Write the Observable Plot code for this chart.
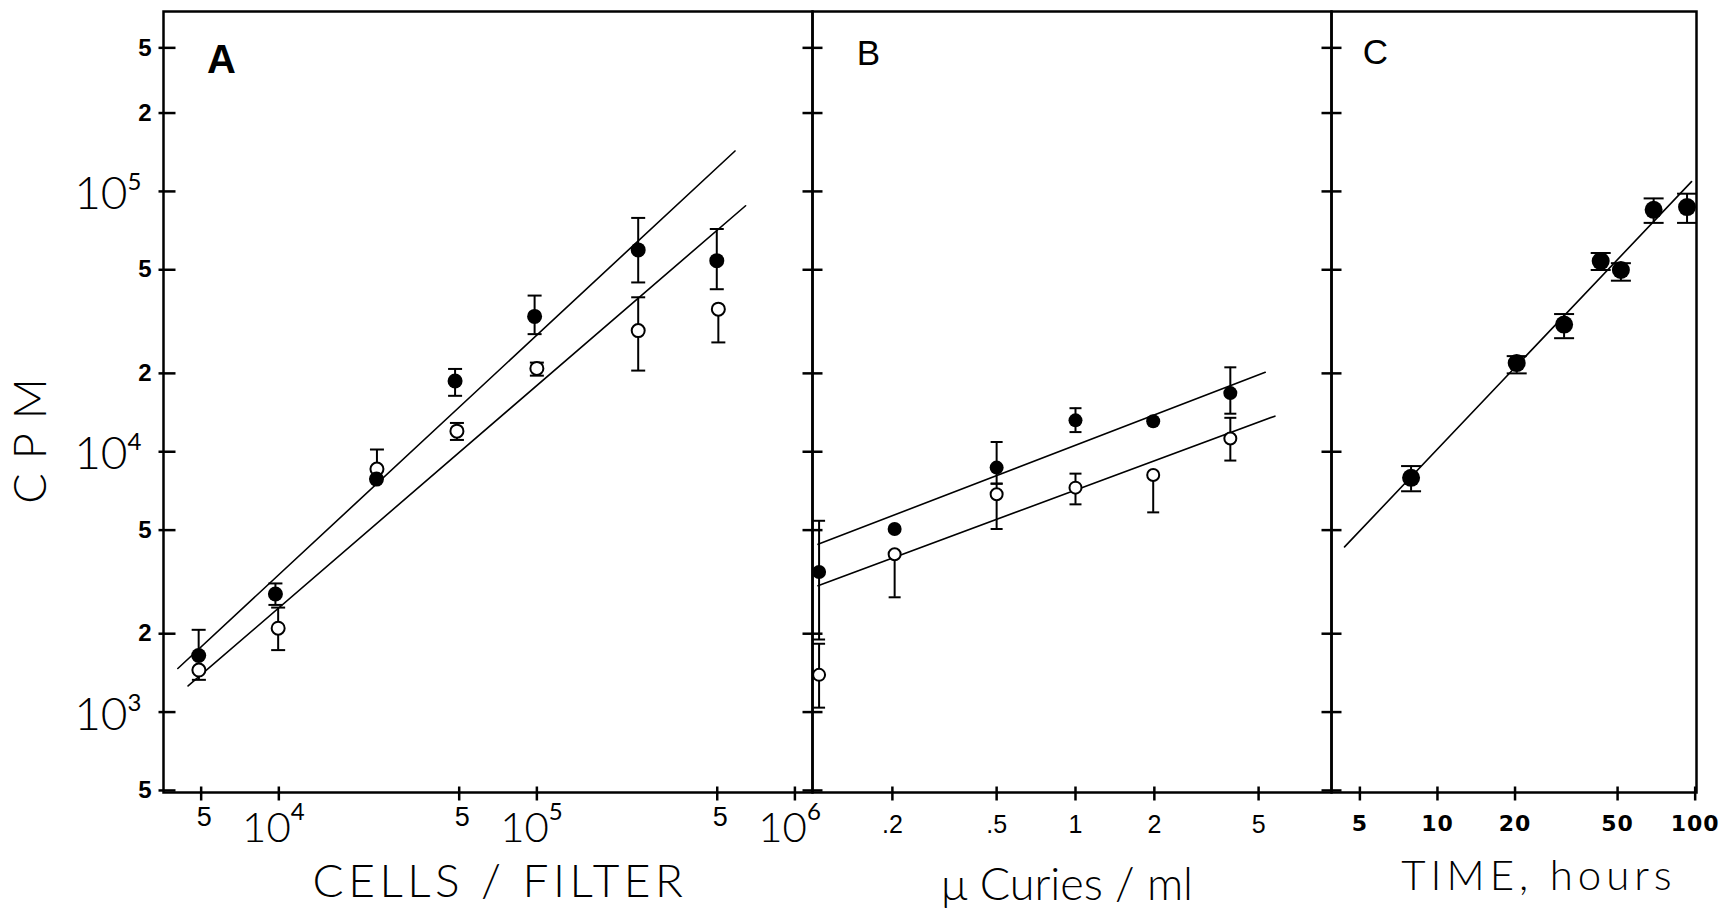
<!DOCTYPE html>
<html><head><meta charset="utf-8">
<script src="https://cdn.jsdelivr.net/npm/d3@7"></script>
<script src="https://cdn.jsdelivr.net/npm/@observablehq/plot@0.6"></script>
<style>
html,body{margin:0;padding:0;background:#fff;}
#fig{position:relative;width:1724px;height:913px;overflow:hidden;background:#fff;}
#fig svg{position:absolute;left:0;top:0;}
</style></head><body><div id="fig"></div>
<script>
// ---- shared y axis (CPM, log) ----
const yDomain = [491, 4.91e5];
const yMajorTicks = [1e3, 1e4, 1e5];
const yMajorExp = ["3", "4", "5"];
const yMinorTicks = [500, 2000, 5000, 2e4, 5e4, 2e5, 3.56e5];
const yMinorLabels = ["5", "2", "5", "2", "5", "2", "5"];
const yAllTicks = [500, 1e3, 2000, 5000, 1e4, 2e4, 5e4, 1e5, 2e5, 3.56e5];

// ---- Panel A: cells / filter ----
const xDomainA = [3573, 1.17e6];
const xTicksA = [5e3, 1e4, 5e4, 1e5, 5e5, 1e6];
const xMinorA = [5e3, 5e4, 5e5];
const xMajorA = [1e4, 1e5, 1e6];
const xMajorExpA = ["4", "5", "6"];
const cellsFilledA = [4890, 9700, 23900, 48200, 98000, 247000, 498000];
const cpmFilledA = [1650, 2840, 7850, 18700, 33100, 59600, 54200];
const hiFilledA = [2070, 3120, null, 20800, 39800, 79100, 71700];
const loFilledA = [null, 2580, null, 16400, 28300, 44700, 42100];
const cellsOpenA = [4900, 9940, 24000, 49000, 100000, 247000, 505000];
const cpmOpenA = [1450, 2100, 8580, 12000, 20900, 29200, 35300];
const hiOpenA = [null, 2520, 10200, 12900, 22000, 39200, null];
const loOpenA = [1330, 1730, null, 11100, 19600, 20500, 26300];
const fitFilledAx = [4060, 586000], fitFilledAy = [1470, 143000];
const fitOpenAx = [4450, 644000], fitOpenAy = [1260, 88100];

// ---- Panel B: uCuries / ml ----
const xDomainB = [0.0991, 9.49];
const xTicksB = [0.2, 0.5, 1, 2, 5];
const xLabelsB = [".2", ".5", "1", "2", "5"];
const doseB = [0.105, 0.204, 0.5, 1.0, 1.98, 3.9];
const cpmFilledB = [3450, 5050, 8690, 13200, 13100, 16800];
const hiFilledB = [5430, null, 10900, 14700, null, 21100];
const loFilledB = [1900, null, 7540, 11900, null, 14000];
const cpmOpenB = [1390, 4040, 6870, 7280, 8140, 11250];
const hiOpenB = [1830, null, 7540, 8240, null, 13500];
const loOpenB = [1040, 2760, 5050, 6280, 5850, 9250];
const fitFilledBx = [0.104, 5.3], fitFilledBy = [4410, 20200];
const fitOpenBx = [0.104, 5.77], fitOpenBy = [3060, 13700];

// ---- Panel C: time, hours ----
const xDomainC = [3.88, 101.2];
const xTicksC = [5, 10, 20, 50, 100];
const xLabelsC = ["5", "10", "20", "50", "100"];
const hoursC = [7.9, 20.3, 31, 43, 51.5, 69, 93];
const cpmC = [7940, 21900, 30800, 54000, 49900, 85000, 87100];
const hiC = [8810, 23300, 33800, 58000, 53000, 94000, 98000];
const loC = [7050, 20000, 27300, 49900, 45400, 75700, 75700];
const fitCx = [4.36, 96.8], fitCy = [4310, 109000];

// ---- helpers ----
const W = 1724, H = 913, TOP = 11, BOTTOM = 121;
const thin = "Lato, 'Open Sans', sans-serif";
const sans = "'Liberation Sans', Arial, sans-serif";
const wide = "'DejaVu Sans', Verdana, sans-serif";

const rows = (xs, ys, hi, lo) => xs.map((x, i) => ({x, y: ys[i], hi: hi[i], lo: lo[i]}));
const pts = (xs, ys) => xs.map((x, i) => ({x, y: ys[i]}));
const hLine = (a, b) => ({draw(c) { c.moveTo(-a, 0); c.lineTo(b, 0); }});
const vLine = (a, b) => ({draw(c) { c.moveTo(0, -a); c.lineTo(0, b); }});
const mid = {textAnchor: "middle", lineAnchor: "middle"};

function errorMarks(data, capHalf, sw = 2) {
  const bars = data.filter(d => d.hi != null || d.lo != null);
  return [
    Plot.ruleX(bars, {x: "x", y1: d => d.lo ?? d.y, y2: d => d.hi ?? d.y, stroke: "black", strokeWidth: sw}),
    Plot.dot(data.filter(d => d.hi != null), {x: "x", y: "hi", symbol: hLine(capHalf, capHalf), stroke: "black", fill: "none", strokeWidth: sw}),
    Plot.dot(data.filter(d => d.lo != null), {x: "x", y: "lo", symbol: hLine(capHalf, capHalf), stroke: "black", fill: "none", strokeWidth: sw})
  ];
}

function panel(left, right, xDomain, marks) {
  return Plot.plot({
    width: W, height: H,
    marginLeft: left, marginRight: W - right, marginTop: TOP, marginBottom: BOTTOM,
    x: {type: "log", domain: xDomain, axis: null},
    y: {type: "log", domain: yDomain, axis: null},
    style: {background: "transparent", overflow: "visible", color: "black"},
    marks
  });
}

const frame = Plot.frame({stroke: "black", strokeWidth: 2.5});

// ---- Panel A ----
const dataFA = rows(cellsFilledA, cpmFilledA, hiFilledA, loFilledA);
const dataOA = rows(cellsOpenA, cpmOpenA, hiOpenA, loOpenA);
const plotA = panel(163, 812, xDomainA, [
  Plot.line(pts(fitFilledAx, fitFilledAy), {x: "x", y: "y", stroke: "black", strokeWidth: 1.6}),
  Plot.line(pts(fitOpenAx, fitOpenAy), {x: "x", y: "y", stroke: "black", strokeWidth: 1.6}),
  ...errorMarks(dataOA, 7),
  ...errorMarks(dataFA, 7),
  Plot.dot(dataOA, {x: "x", y: "y", r: 6.5, fill: "white", stroke: "black", strokeWidth: 2}),
  Plot.dot(dataFA, {x: "x", y: "y", r: 7.5, fill: "black"}),
  frame,
  // y ticks
  Plot.dot(yAllTicks, {y: d => d, frameAnchor: "left", symbol: hLine(5, 12), stroke: "black", fill: "none", strokeWidth: 2.5}),
  Plot.text(yMinorTicks, {y: d => d, text: (d, i) => yMinorLabels[i], frameAnchor: "left", dx: -12, textAnchor: "end", lineAnchor: "middle", fontSize: 24, fontWeight: "bold", fontFamily: sans}),
  Plot.text(yMajorTicks, {y: d => d, text: () => "10", frameAnchor: "left", dx: -36, dy: 3, textAnchor: "end", lineAnchor: "middle", fontSize: 46, fontWeight: 300, fontFamily: thin}),
  Plot.text(yMajorTicks, {y: d => d, text: (d, i) => yMajorExp[i], frameAnchor: "left", dx: -36, dy: -9, textAnchor: "start", lineAnchor: "middle", fontSize: 24, fontFamily: thin}),
  // x ticks
  Plot.dot(xTicksA, {x: d => d, frameAnchor: "bottom", symbol: vLine(6, 8), stroke: "black", fill: "none", strokeWidth: 2.5}),
  Plot.text(xMinorA, {x: d => d, text: () => "5", frameAnchor: "bottom", dx: 3, dy: 25, ...mid, fontSize: 27, fontFamily: sans}),
  Plot.text(xMajorA, {x: d => d, text: () => "10", frameAnchor: "bottom", dx: 12, dy: 36, textAnchor: "end", lineAnchor: "middle", fontSize: 42, fontWeight: 300, fontFamily: thin}),
  Plot.text(xMajorA, {x: d => d, text: (d, i) => xMajorExpA[i], frameAnchor: "bottom", dx: 12, dy: 20, textAnchor: "start", lineAnchor: "middle", fontSize: 24, fontFamily: thin}),
  // titles
  Plot.text(["A"], {frameAnchor: "top-left", dx: 58, dy: 49, ...mid, fontSize: 40, fontWeight: "bold", fontFamily: sans}),
  Plot.text(["CELLS / FILTER"], {frameAnchor: "bottom", dx: 12, dy: 90, ...mid, fontSize: 46, fontWeight: 300, fontFamily: thin}),
  Plot.text(["CPM"], {frameAnchor: "left", dx: -132, dy: 32, rotate: -90, ...mid, fontSize: 45, fontWeight: 300, fontFamily: thin})
]);

// ---- Panel B ----
const dataFB = rows(doseB, cpmFilledB, hiFilledB, loFilledB);
const dataOB = rows(doseB, cpmOpenB, hiOpenB, loOpenB);
const plotB = panel(812, 1331, xDomainB, [
  Plot.line(pts(fitFilledBx, fitFilledBy), {x: "x", y: "y", stroke: "black", strokeWidth: 1.6}),
  Plot.line(pts(fitOpenBx, fitOpenBy), {x: "x", y: "y", stroke: "black", strokeWidth: 1.6}),
  ...errorMarks(dataOB, 6),
  ...errorMarks(dataFB, 6),
  Plot.dot(dataOB, {x: "x", y: "y", r: 6, fill: "white", stroke: "black", strokeWidth: 2}),
  Plot.dot(dataFB, {x: "x", y: "y", r: 7, fill: "black"}),
  frame,
  Plot.dot(yAllTicks, {y: d => d, frameAnchor: "left", symbol: hLine(10, 10), stroke: "black", fill: "none", strokeWidth: 2.5}),
  Plot.dot(xTicksB, {x: d => d, frameAnchor: "bottom", symbol: vLine(6, 8), stroke: "black", fill: "none", strokeWidth: 2.5}),
  Plot.text(xTicksB, {x: d => d, text: (d, i) => xLabelsB[i], frameAnchor: "bottom", dy: 32, ...mid, fontSize: 25, fontFamily: sans}),
  Plot.text(["B"], {frameAnchor: "top-left", dx: 56, dy: 42, ...mid, fontSize: 35, fontFamily: sans}),
  Plot.text(["\u03bc Curies / ml"], {frameAnchor: "bottom", dx: -5, dy: 93, ...mid, fontSize: 45, fontWeight: 300, fontFamily: thin})
]);

// ---- Panel C ----
const dataC = rows(hoursC, cpmC, hiC, loC);
const plotC = panel(1331, 1696, xDomainC, [
  Plot.line(pts(fitCx, fitCy), {x: "x", y: "y", stroke: "black", strokeWidth: 1.6}),
  ...errorMarks(dataC, 10),
  Plot.dot(dataC, {x: "x", y: "y", r: 9, fill: "black"}),
  frame,
  Plot.dot(yAllTicks, {y: d => d, frameAnchor: "left", symbol: hLine(10, 10), stroke: "black", fill: "none", strokeWidth: 2.5}),
  Plot.dot(xTicksC, {x: d => d, frameAnchor: "bottom", symbol: vLine(6, 8), stroke: "black", fill: "none", strokeWidth: 2.5}),
  Plot.text(xTicksC, {x: d => d, text: (d, i) => xLabelsC[i], frameAnchor: "bottom", dy: 31, ...mid, fontSize: 22, fontWeight: "bold", fontFamily: wide}),
  Plot.text(["C"], {frameAnchor: "top-left", dx: 44, dy: 41, ...mid, fontSize: 35, fontFamily: sans}),
  Plot.text(["TIME, hours"], {frameAnchor: "bottom", dx: 25, dy: 84, ...mid, fontSize: 42, fontWeight: 300, fontFamily: thin})
]);

const fig = document.getElementById("fig");
[plotA, plotB, plotC].forEach(p => fig.appendChild(p));

// letter spacing for the hand-lettered titles
const spacing = {"CPM": "14px", "CELLS / FILTER": "4.5px", "TIME, hours": "5px"};
fig.querySelectorAll("text").forEach(t => {
  const s = t.textContent;
  if (spacing[s]) t.style.letterSpacing = spacing[s];
});
plotC.querySelectorAll("text").forEach(t => {
  if (xLabelsC.includes(t.textContent)) t.style.letterSpacing = "1px";
});
</script></body></html>
